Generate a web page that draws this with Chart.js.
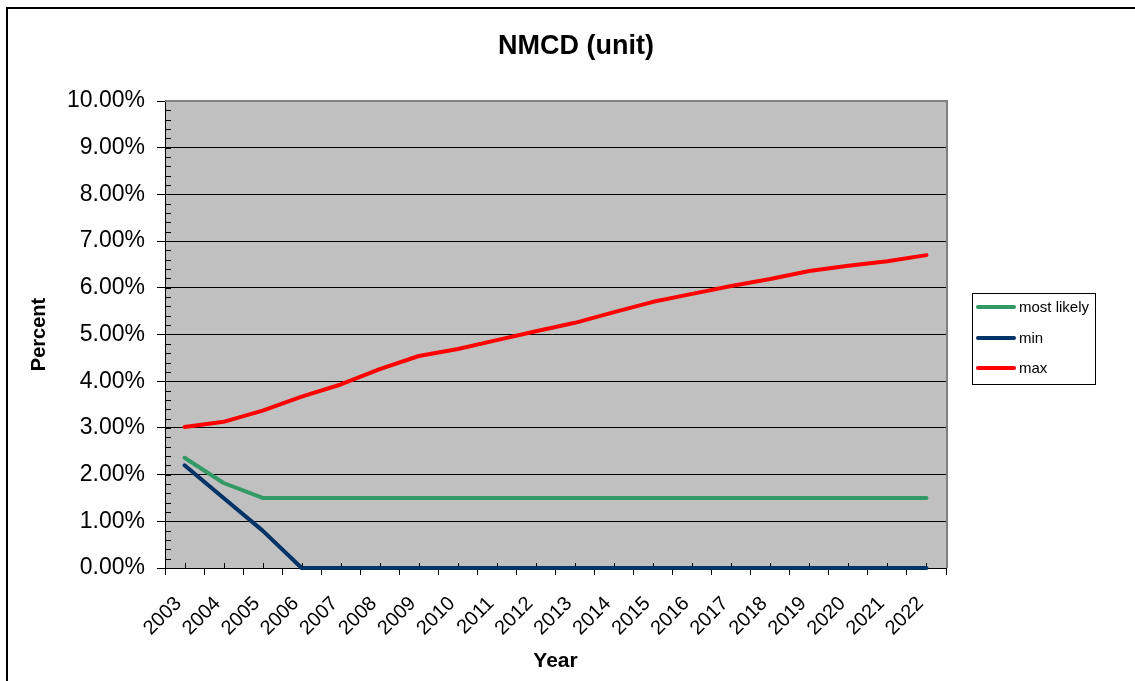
<!DOCTYPE html>
<html>
<head>
<meta charset="utf-8">
<script src="https://cdn.jsdelivr.net/npm/chart.js@4/dist/chart.umd.min.js"></script>
<style>
html,body{margin:0;padding:0;background:#fff;}
#wrap{width:1135px;height:681px;position:relative;}
</style>
</head>
<body>
<div id="wrap"><canvas id="c" width="1135" height="681"></canvas></div>
<script>
const years = ['2003','2004','2005','2006','2007','2008','2009','2010','2011','2012','2013','2014','2015','2016','2017','2018','2019','2020','2021','2022'];
const mostLikely = [2.36,1.82,1.5,1.5,1.5,1.5,1.5,1.5,1.5,1.5,1.5,1.5,1.5,1.5,1.5,1.5,1.5,1.5,1.5,1.5];
const minVals = [2.2,1.5,0.8,0,0,0,0,0,0,0,0,0,0,0,0,0,0,0,0,0];
const maxVals = [3.02,3.13,3.37,3.67,3.93,4.26,4.54,4.69,4.88,5.07,5.25,5.48,5.70,5.87,6.04,6.19,6.36,6.47,6.57,6.70];
const seriesNames = ['most likely','min','max'];
const chartTitle = 'NMCD (unit)';
const yTitle = 'Percent';
const xTitle = 'Year';

const FONT = "'Liberation Sans', Arial, Helvetica, sans-serif";

const decor = {
  id: 'decor',
  beforeDraw(chart) {
    const ctx = chart.ctx, a = chart.chartArea;
    ctx.save();
    ctx.fillStyle = '#ffffff';
    ctx.fillRect(0, 0, chart.width, chart.height);
    ctx.strokeStyle = '#000000';
    ctx.lineWidth = 2;
    ctx.strokeRect(7, 8, chart.width + 20, chart.height + 20);
    ctx.fillStyle = '#c0c0c0';
    ctx.fillRect(a.left, a.top, a.right - a.left, a.bottom - a.top);
    ctx.restore();
  },
  beforeDatasetsDraw(chart) {
    const ctx = chart.ctx, a = chart.chartArea;
    const y = chart.scales.y, x = chart.scales.x;
    ctx.save();
    ctx.strokeStyle = '#000000';
    ctx.lineWidth = 1;
    ctx.beginPath();
    for (let v = 0; v <= 10.0001; v += 0.2) {
      const py = Math.round(y.getPixelForValue(v)) + 0.5;
      ctx.moveTo(a.left, py); ctx.lineTo(a.left + 6, py);
    }
    for (let i = 0; i < years.length; i++) {
      const px = Math.round(x.getPixelForValue(i)) + 0.5;
      ctx.moveTo(px, a.bottom); ctx.lineTo(px, a.bottom - 5);
    }
    ctx.stroke();
    ctx.strokeStyle = '#808080';
    ctx.lineWidth = 2;
    ctx.beginPath();
    ctx.moveTo(a.left, a.top); ctx.lineTo(a.right + 1, a.top); ctx.lineTo(a.right + 1, a.bottom);
    ctx.stroke();
    ctx.restore();
  },
  afterDraw(chart) {
    const ctx = chart.ctx;
    ctx.save();
    ctx.fillStyle = '#000';
    ctx.font = 'bold 27px ' + FONT;
    ctx.textAlign = 'center';
    ctx.textBaseline = 'middle';
    ctx.fillText(chartTitle, 576, 47);
    const lx = 972.5, ly = 293.5, lw = 123, lh = 91;
    ctx.fillStyle = '#ffffff';
    ctx.fillRect(lx, ly, lw, lh);
    ctx.strokeStyle = '#000';
    ctx.lineWidth = 1;
    ctx.strokeRect(lx, ly, lw, lh);
    const rows = [307, 338, 368];
    chart.data.datasets.forEach((ds, i) => {
      ctx.strokeStyle = ds.borderColor;
      ctx.lineWidth = 4;
      ctx.lineCap = 'round';
      ctx.beginPath();
      ctx.moveTo(978, rows[i]); ctx.lineTo(1014, rows[i]);
      ctx.stroke();
      ctx.fillStyle = '#000';
      ctx.font = '15px ' + FONT;
      ctx.textAlign = 'left';
      ctx.textBaseline = 'middle';
      ctx.fillText(ds.label, 1019, rows[i] + 1);
    });
    ctx.restore();
  }
};

const mk = (label, data, color) => ({
  label, data, borderColor: color, backgroundColor: color,
  borderWidth: 4, pointRadius: 0, tension: 0, fill: false, clip: false,
  borderCapStyle: 'round', borderJoinStyle: 'round'
});

new Chart(document.getElementById('c'), {
  type: 'line',
  data: {
    labels: years,
    datasets: [
      mk(seriesNames[0], mostLikely, '#339966'),
      mk(seriesNames[1], minVals, '#003366'),
      mk(seriesNames[2], maxVals, '#ff0000')
    ]
  },
  options: {
    responsive: false,
    animation: false,
    devicePixelRatio: 1,
    layout: { padding: { left: 0, right: 189, top: 101, bottom: 0 } },
    plugins: { legend: { display: false }, title: { display: false }, tooltip: { enabled: false } },
    scales: {
      x: {
        type: 'category',
        offset: true,
        afterFit(s) { s.height = 113; },
        grid: { display: true, drawOnChartArea: false, drawTicks: true, tickLength: 7, offset: true, color: '#000', lineWidth: 1 },
        border: { display: true, color: '#000', width: 1 },
        ticks: { autoSkip: false, maxRotation: 45, minRotation: 45, labelOffset: -6, color: '#000', font: { family: FONT, size: 20 }, padding: 17 },
        title: { display: true, text: xTitle, color: '#000', font: { family: FONT, size: 21, weight: 'bold' }, padding: { top: 0, bottom: 7 } }
      },
      y: {
        min: 0, max: 10,
        afterFit(s) { s.width = 165; },
        grid: { color: '#000', lineWidth: 1, tickLength: 8, drawTicks: true },
        border: { display: true, color: '#000', width: 1 },
        ticks: { stepSize: 1, color: '#000', padding: 12, font: { family: FONT, size: 23 }, callback: v => v.toFixed(2) + '%' },
        title: { display: true, text: yTitle, color: '#000', font: { family: FONT, size: 20, weight: 'bold' }, padding: { top: 27, bottom: 0 } }
      }
    }
  },
  plugins: [decor]
});
</script>
</body>
</html>
